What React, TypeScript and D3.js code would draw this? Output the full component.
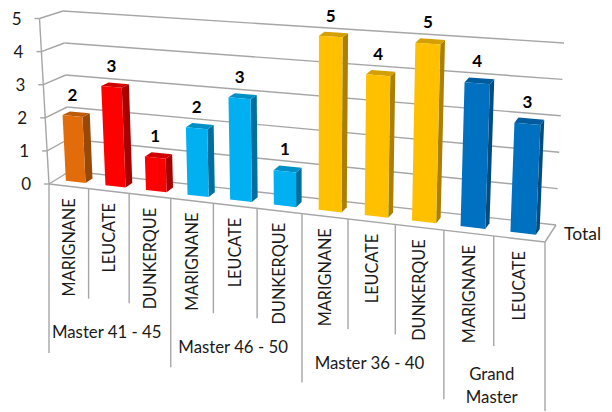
import React from "react";
import * as d3 from "d3";

const categories = ["MARIGNANE","LEUCATE","DUNKERQUE","MARIGNANE","LEUCATE","DUNKERQUE","MARIGNANE","LEUCATE","DUNKERQUE","MARIGNANE","LEUCATE"];
const values = [2,3,1,2,3,1,5,4,5,4,3];
const groupNames = [["Master 41 - 45"],["Master 46 - 50"],["Master 36 - 40"],["Grand","Master"]];
const groupSizes = [3,3,3,2];
const yTicks = [0,1,2,3,4,5];
const front = ["#E36C0A","#FF0000","#FF0000","#00B0F0","#00B0F0","#00B0F0","#FFC000","#FFC000","#FFC000","#0070C0","#0070C0"];
const side = ["#984807","#A80000","#A80000","#006F9E","#006F9E","#006F9E","#AB8000","#AB8000","#AB8000","#004B80","#004B80"];
const topc = ["#BD5A08","#D00000","#D00000","#0090C6","#0090C6","#0090C6","#D49F00","#D49F00","#D49F00","#005C9E","#005C9E"];

type P = [number, number];
const F00: P = [49,184], F10: P = [545,242], B00: P = [70,171], B10: P = [556,225];
const F05: P = [39.5,18.5], F15: P = [553,58], B05: P = [63,11], B15: P = [564,43];
const GRAY = "#A6A6A6";
const FONT = "Lato, sans-serif";

const u = d3.scaleLinear().domain([0, categories.length]).range([0, 1]);
const band = d3.scaleBand<number>().domain(d3.range(categories.length)).range([0, categories.length]).paddingInner(0.5).paddingOuter(0.25);
const v = d3.scaleLinear().domain([0, 5]).range([0, 1]);
const warp = (t: number) => t / (t + 1.1527 * (1 - t));
const mix = (a: P, b: P, t: number): P => [a[0] + (b[0] - a[0]) * t, a[1] + (b[1] - a[1]) * t];
function proj(i: number, d: number, val: number): P {
  const s = warp(u(i)), h = v(val);
  const f = mix(mix(F00, F10, s), mix(F05, F15, s), h);
  const b = mix(mix(B00, B10, s), mix(B05, B15, s), h);
  return mix(f, b, d);
}
const frontY = (i: number) => proj(i, 0, 0);
const D0 = 0.34, D1 = 0.68;
const line = d3.line();
const poly = (pts: P[]) => line(pts) + "Z";

const L: React.FC<{a: P; b: P}> = ({a, b}) => <line x1={a[0]} y1={a[1]} x2={b[0]} y2={b[1]} stroke={GRAY} strokeWidth={1.4} />;

export default function App() {
  const n = categories.length;
  let acc = 0;
  const groups = groupSizes.map((g) => { const r = [acc, acc + g]; acc += g; return r; });
  const groupEdges = new Set([0, ...groups.map((g) => g[1])]);
  return (
    <svg width={612} height={412} style={{position: "absolute", left: 0, top: 0, background: "#fff"}} fontFamily={FONT}>
      {yTicks.map((t) => {
        const a = proj(0, 0, t), b = proj(0, 1, t), c = proj(n, 1, t);
        return <g key={t}>
          <L a={[a[0] - 5, a[1]]} b={a} />
          <L a={a} b={b} />
          <L a={b} b={c} />
          <text x={a[0] - 18} y={a[1] + 6} textAnchor="end" fontSize={17} fill="#1a1a1a">{t}</text>
        </g>;
      })}
      <L a={proj(0,0,0)} b={proj(0,0,5)} />
      <L a={proj(0,0,0)} b={proj(n,0,0)} />
      <L a={proj(n,0,0)} b={proj(n,1,0)} />
      {d3.range(n + 1).map((i) => {
        const p = frontY(i);
        const len = groupEdges.has(i) ? 169 : 110;
        return <L key={i} a={p} b={[p[0], p[1] + len]} />;
      })}
      {values.map((val, i) => {
        const x0 = band(i)!, x1 = x0 + band.bandwidth();
        const a = proj(x0, D0, 0), b = proj(x1, D0, 0), c = proj(x1, D0, val), e = proj(x0, D0, val);
        const b2 = proj(x1, D1, 0), c2 = proj(x1, D1, val), e2 = proj(x0, D1, val);
        const lx = (e[0] + c[0]) / 2;
        return <g key={i}>
          <path d={poly([b, b2, c2, c])} fill={side[i]} />
          <path d={poly([e, c, c2, e2])} fill={topc[i]} />
          <path d={poly([a, b, c, e])} fill={front[i]} />
          <text x={lx} y={e2[1] - 10} textAnchor="middle" fontSize={17} fontWeight={700} fill="#000">{val}</text>
        </g>;
      })}
      {categories.map((c, i) => {
        const p = frontY(i + 0.5);
        return <text key={i} transform={`translate(${p[0] + 6},${p[1] + 12}) rotate(-90)`} textAnchor="end" fontSize={16.3} fill="#1a1a1a">{c}</text>;
      })}
      {groupNames.map((g, k) => {
        const p = frontY((groups[k][0] + groups[k][1]) / 2);
        return <text key={k} textAnchor="middle" fontSize={16.8} fill="#1a1a1a">
          {g.map((t, j) => <tspan key={j} x={p[0] - 2} y={p[1] + (g.length > 1 ? 144 + j * 23 : 147)}>{t}</tspan>)}
        </text>;
      })}
      <text x={564} y={240} fontSize={17.5} fill="#1a1a1a">Total</text>
    </svg>
  );
}
